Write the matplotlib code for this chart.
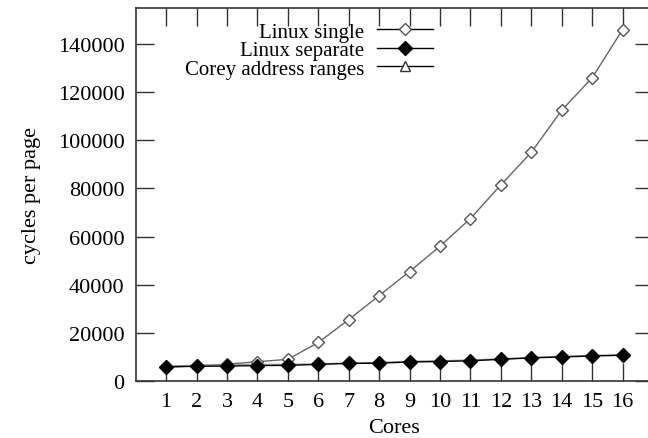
import matplotlib
matplotlib.use("Agg")
import matplotlib.pyplot as plt

cores = list(range(1, 17))
linux_single = [5800, 6300, 7000, 8000, 9000, 16000, 25500, 35500, 45500, 56000,
                67500, 81500, 95000, 112500, 126000, 146000]
linux_separate = [5900, 6100, 6200, 6400, 6500, 6900, 7300, 7400, 7900, 8100,
                  8400, 9000, 9600, 10000, 10400, 10700]
corey_ranges = [6200, 6500, 6700, 6900, 6900, 7100, 7500, 7700, 8200, 8400,
                8700, 9200, 9800, 10200, 10600, 10900]
xticks = list(range(1, 17))
yticks = [0, 20000, 40000, 60000, 80000, 100000, 120000, 140000]

plt.rcParams['font.family'] = ['Liberation Serif', 'DejaVu Serif']

fig = plt.figure(figsize=(6.48, 4.39), dpi=100)
ax = fig.add_axes([135.7 / 648, 57 / 439, (653 - 135.7) / 648, (382 - 9) / 439])

ax.plot(cores, linux_single, color='#666666', lw=1.0, marker='D', ms=6.5,
        mfc='white', mec='#555555', mew=1.0, label='Linux single', zorder=3)
ax.plot(cores, corey_ranges, color='#999999', lw=1.0, marker='^', ms=5,
        mfc='white', mec='#333333', mew=1.0, label='Corey address ranges', zorder=3)
ax.plot(cores, linux_separate, color='black', lw=1.0, marker='D', ms=7,
        mfc='black', mec='black', label='Linux separate', zorder=4)

ax.set_xlim(0, 17)
ax.set_ylim(0, 155000)
ax.set_xticks(xticks)
ax.set_xticklabels([str(c) for c in xticks])
ax.set_yticks(yticks)
ax.set_yticklabels([str(v) for v in yticks])
ax.tick_params(direction='in', length=13, width=1.0, color='#333333',
               labelsize=16, top=True, right=True, pad=8)
for s in ax.spines.values():
    s.set_color('#333333')
    s.set_linewidth(1.2)

ax.set_xlabel('Cores', fontsize=16, labelpad=5)
ax.set_ylabel('cycles per page', fontsize=16, labelpad=12)

h, l = ax.get_legend_handles_labels()
order = [0, 2, 1]
leg = ax.legend([h[i] for i in order], [l[i] for i in order],
                loc='upper right', bbox_to_anchor=(433 / 648, 1 - 23 / 439),
                bbox_transform=fig.transFigure, frameon=False, markerfirst=False,
                fontsize=15, handlelength=2.7, handletextpad=0.6,
                labelspacing=-0.05, borderpad=0, borderaxespad=0)
for lh in leg.get_lines():
    lh.set_color('black')
leg.get_lines()[2].set_markersize(7)

fig.savefig('out.png', dpi=100)
